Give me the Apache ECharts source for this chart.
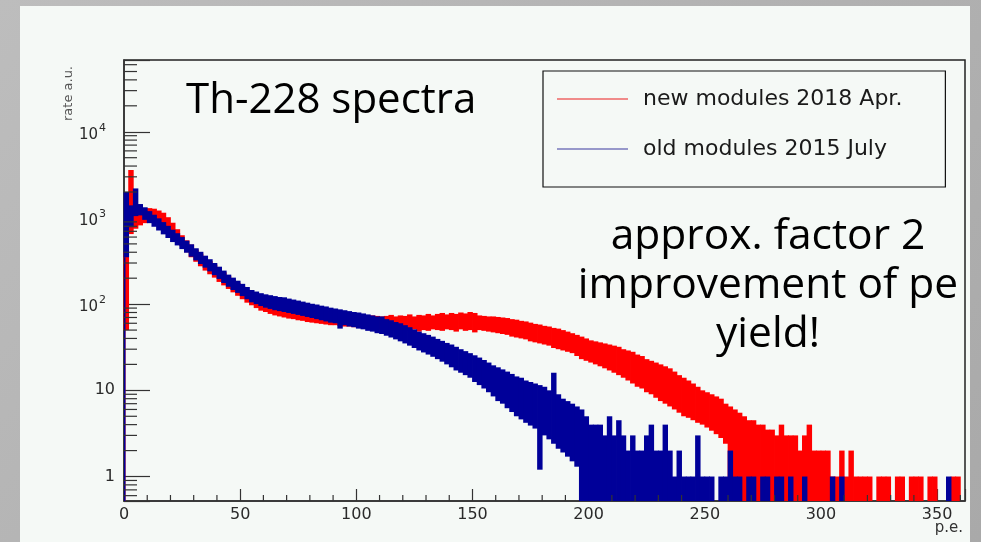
<!DOCTYPE html>
<html>
<head>
<meta charset="utf-8">
<script src="https://cdn.jsdelivr.net/npm/echarts@6/dist/echarts.min.js"></script>
<style>
html,body{margin:0;padding:0;width:981px;height:542px;overflow:hidden;background:linear-gradient(135deg,#bdbdbd 0%,#b2b2b2 50%,#a9a9a9 100%);}
#panel{position:absolute;left:20px;top:6px;width:950px;height:536px;background:#f5f9f6;}
#chart{position:absolute;left:0;top:0;width:981px;height:542px;}
</style>
</head>
<body>
<div id="panel"></div>
<div id="chart"></div>
<script>
// ---- data (histogram bins of 2 p.e.; counts; 0 = empty / below axis) ----
const binWidth = 2;
const seriesNames = ['new modules 2018 Apr.', 'old modules 2015 July'];
const xTicks = [0, 50, 100, 150, 200, 250, 300, 350];
const yTicks = [1, 10, 100, 1000, 10000];

// red: new modules 2018 Apr. (upper / lower edge of the noisy band per bin)
const redHi = [
  400,3600,1300,1250,1280,1300,1280,1220,1150,1020,
  880,740,630,550,490,430,385,345,315,287,
  256,234,213,194,177,161,147,137,128,120,
  114,109,104,102,99,97,95,93,91,89,
  87,85,84,83,82,81,80,79,78,77,
  76,75,74,74,73,72,73,75,72,74,
  73,76,72,75,74,77,74,77,79,76,
  79,77,80,78,81,79,74,73,72,72,
  71,70,69,67,66,64,63,61,59,58,
  56,55,53,52,50,48,46,44,42,40,
  38,37,36,35,34,33,32,30,29,28,
  26,25,23,22,21,20,19,18,16.5,15,
  14,13,12,11,10,9.5,9,8.5,8,7,
  6.5,6,5.5,5,4.5,4.5,4,4,3.5,3.5,
  3,4,3,3,3,2,3,4,2,2,
  2,2,1,1,2,1,2,1,1,1,
  1,0,1,1,1,0,1,1,0,1,
  1,1,0,1,1,0,0,0,1,1,
  0
];
const redLo = [
  50,650,750,820,870,900,920,900,860,780,
  660,560,470,400,350,310,275,245,222,203,
  181,165,150,137,125,114,104,97,90,84,
  81,77,74,72,70,68,67,65,64,62,
  61,60,59,58,57,57,56,55,55,54,
  53,53,52,52,51,51,50,49,51,48,
  50,49,51,48,50,49,51,50,49,51,
  50,48,51,49,50,47,50,49,48,47,
  46,45,44,42,41,40,39,37,36,35,
  34,33,31,30,29,28,27,25,23,22,
  21,20,19,18,17,16,15,14,13,12,
  11,10.5,9.5,9,8.2,7.5,7,6.5,6,5.5,
  5,4.8,4.5,4.2,4,3.7,3.4,3.1,2.8,2.4,
  0,0,0,0,0,0,0,0,0,0,
  0,0,0,0,0,0,0,0,0,0,
  0,0,0,0,0,0,0,0,0,0,
  0,0,0,0,0,0,0,0,0,0,
  0,0,0,0,0,0,0,0,0,0,
  0
];

// blue: old modules 2015 July
const blueHi = [
  2000,1400,2200,1450,1330,1200,1090,990,895,810,
  730,665,600,545,495,445,405,365,332,300,
  272,245,220,203,187,172,158,146,140,134,
  130,127,124,121,120,116,113,110,107,104,
  101,99,96,94,91,89,87,85,83,81,
  80,78,76,74,72,72,67,65,62,60,
  57,54,51,48,46,44,42,39.5,37.5,35.5,
  34,32,30,28.5,27,25.5,24,22.5,21,19.5,
  18.5,17.5,16.5,15.5,14.5,14,13,12.5,12,11.5,
  11,10,16,9,8,7.5,7,6.5,6,5,
  4,4,4,3,5,3,4.5,3,2,3,
  2,2,3,4,2,2,4,2,1,2,
  1,1,1,3,1,1,1,0,1,1,
  2,1,1,0,1,1,0,1,1,0,
  1,1,0,1,0,0,1,0,0,0,
  0,0,1,0,1,0,0,0,0,0,
  0,0,0,0,0,0,0,0,0,0,
  0,0,0,0,0,0,0,1,0,0,
  0
];
const blueLo = [
  350,780,1050,1070,950,870,790,715,645,585,
  525,480,435,395,355,322,292,265,240,217,
  196,176,159,146,135,124,114,105,100,95,
  91,88,85,83,81,79,77,75,73,71,
  69,67,65,63,61,60,52,57,55,54,
  52,51,49,48,46,45,43,41,39,37,
  35,33,31,29,27.5,26,24.5,23,21.5,20,
  18.5,17,16,15,14,12.5,11.5,10.5,9.5,8.5,
  7.5,7,6.2,5.6,5,4.6,4.2,3.9,3.6,1.2,
  3,2.7,2.4,2.1,1.9,1.7,1.5,1.3,0,0,
  0,0,0,0,0,0,0,0,0,0,
  0,0,0,0,0,0,0,0,0,0,
  0,0,0,0,0,0,0,0,0,0,
  0,0,0,0,0,0,0,0,0,0,
  0,0,0,0,0,0,0,0,0,0,
  0,0,0,0,0,0,0,0,0,0,
  0,0,0,0,0,0,0,0,0,0,
  0,0,0,0,0,0,0,0,0,0,
  0
];

const X_MIN = 0, X_MAX = 362;
const Y_MIN = 0.52, Y_MAX = 68000;
const RED = '#ff0000', BLUE = '#000099';

// ---- build ----
function binsToData(hi, lo) {
  const out = [];
  for (let i = 0; i < hi.length; i++) {
    if (!(hi[i] > 0)) continue;
    out.push([i * binWidth, (i + 1) * binWidth, lo[i] > 0 ? lo[i] : Y_MIN, hi[i]]);
  }
  return out;
}
function histRender(color) {
  return function (params, api) {
    const x0 = api.value(0), x1 = api.value(1), lo = api.value(2), hi = api.value(3);
    const cs = params.coordSys;
    const pTop = api.coord([x0, Math.min(hi, Y_MAX)]);
    const pBot = api.coord([x1, Math.max(lo, Y_MIN)]);
    const top = Math.max(pTop[1], cs.y);
    const bottom = Math.min(pBot[1], cs.y + cs.height);
    const children = [{
      type: 'rect',
      shape: { x: pTop[0] - 0.4, y: top, width: pBot[0] - pTop[0] + 0.8, height: Math.max(bottom - top, 1) },
      style: { fill: color }
    }];
    if (x0 === X_MIN) {
      const pb = api.coord([x0, Y_MIN]);
      children.push({ type: 'line', shape: { x1: pb[0] + 0.75, y1: pb[1], x2: pb[0] + 0.75, y2: pBot[1] },
        style: { stroke: color, lineWidth: 1.5 } });
    }
    return { type: 'group', children };
  };
}
// minor ticks positions
const yMinor = [];
for (let k = -1; k <= 4; k++) for (let m = 2; m <= 9; m++) {
  const v = m * Math.pow(10, k);
  if (v > Y_MIN && v < Y_MAX) yMinor.push([X_MIN, v]);
}
const xMinor = [];
for (let v = 10; v < X_MAX; v += 10) if (v % 50 !== 0) xMinor.push([v, Y_MIN]);

function yLabel(v) {
  const l = Math.log10(v), e = Math.round(l);
  if (Math.abs(l - e) > 1e-6 || yTicks.indexOf(Math.pow(10, e)) < 0) return '';
  if (e === 0) return '1';
  if (e === 1) return '10';
  return '{b|10}{s|' + e + '}';
}

const chart = echarts.init(document.getElementById('chart'), null, { renderer: 'canvas' });
chart.setOption({
  backgroundColor: 'transparent',
  animation: false,
  grid: { left: 124, right: 16, top: 60, bottom: 41, show: true, borderColor: '#222', borderWidth: 1.5, backgroundColor: 'transparent' },
  legend: {
    left: 543, top: 71, orient: 'vertical',
    padding: [17, 43, 27, 14],
    itemGap: 28, itemWidth: 71, itemHeight: 1.5,
    borderColor: '#111', borderWidth: 1.2, backgroundColor: 'transparent',
    icon: 'rect',
    textStyle: { fontFamily: 'DejaVu Sans', fontSize: 22, color: '#1a1a1a', lineHeight: 22, padding: [0, 0, 0, 10] },
    data: [
      { name: seriesNames[0], itemStyle: { color: '#ee6666' } },
      { name: seriesNames[1], itemStyle: { color: '#7777bb' } }
    ]
  },
  xAxis: {
    type: 'value', min: X_MIN, max: X_MAX, interval: 50,
    name: 'p.e.', nameLocation: 'end', nameGap: 0, nameMoveOverlap: false,
    nameTextStyle: { fontFamily: 'DejaVu Sans', fontSize: 15, color: '#333', align: 'right', verticalAlign: 'top', padding: [20, 2, 0, 0] },
    axisLine: { show: true, lineStyle: { color: '#333', width: 1.5 } },
    axisTick: { show: true, inside: true, length: 12, lineStyle: { color: '#333', width: 1.2 } },
    minorTick: { show: false },
    splitLine: { show: false },
    axisLabel: { margin: 6, fontFamily: 'DejaVu Sans', fontSize: 16, color: '#2a2a2a',
      formatter: v => (xTicks.indexOf(v) >= 0 ? String(v) : '') }
  },
  yAxis: {
    type: 'log', logBase: 10, min: Y_MIN, max: Y_MAX,
    name: 'rate a.u.', nameLocation: 'end', nameGap: -6, nameRotate: 90, nameMoveOverlap: false,
    nameTextStyle: { fontFamily: 'DejaVu Sans', fontSize: 13, color: '#555', align: 'right', verticalAlign: 'bottom', padding: [0, 0, 49, 0] },
    axisLine: { show: true, lineStyle: { color: '#333', width: 1.5 } },
    axisTick: { show: true, inside: true, length: 26, lineStyle: { color: '#333', width: 1.2 } },
    splitLine: { show: false },
    minorTick: { show: false },
    axisLabel: { margin: 9, fontFamily: 'DejaVu Sans', fontSize: 16, color: '#2a2a2a', formatter: yLabel,
      rich: {
        b: { fontFamily: 'DejaVu Sans', fontSize: 15, color: '#2a2a2a', verticalAlign: 'bottom', padding: [6, 0, 0, 0] },
        s: { fontFamily: 'DejaVu Sans', fontSize: 11, color: '#2a2a2a', verticalAlign: 'bottom', padding: [0, 9, 9, 1] }
      } }
  },
  series: [
    { name: seriesNames[0], type: 'custom', renderItem: histRender(RED), itemStyle: { color: RED },
      encode: { x: [0, 1], y: [2, 3] }, data: binsToData(redHi, redLo), z: 2, silent: true },
    { name: seriesNames[1], type: 'custom', renderItem: histRender(BLUE), itemStyle: { color: BLUE },
      encode: { x: [0, 1], y: [2, 3] }, data: binsToData(blueHi, blueLo), z: 3, silent: true },
    { name: 'yMinorTicks', type: 'custom', silent: true, z: 4, encode: { x: 0, y: 1 }, data: yMinor,
      renderItem: (params, api) => { const p = api.coord([api.value(0), api.value(1)]);
        return { type: 'line', shape: { x1: p[0], y1: p[1], x2: p[0] + 13, y2: p[1] }, style: { stroke: '#333', lineWidth: 1.2 } }; } },
    { name: 'xMinorTicks', type: 'custom', silent: true, z: 4, encode: { x: 0, y: 1 }, data: xMinor,
      renderItem: (params, api) => { const p = api.coord([api.value(0), api.value(1)]);
        return { type: 'line', shape: { x1: p[0], y1: p[1], x2: p[0], y2: p[1] - 6 }, style: { stroke: '#333', lineWidth: 1.2 } }; } }
  ],
  graphic: [
    { type: 'text', x: 186, y: 101, z: 10,
      style: { text: 'Th-228 spectra', font: '42px "Open Sans"', fill: '#000', textAlign: 'left', textVerticalAlign: 'middle' } },
    { type: 'text', x: 768, y: 286, z: 10,
      style: { text: 'approx. factor 2\nimprovement of pe\nyield!', font: '42.5px "Open Sans"', lineHeight: 49, fill: '#000', textAlign: 'center', textVerticalAlign: 'middle' } }
  ]
});
</script>
</body>
</html>
